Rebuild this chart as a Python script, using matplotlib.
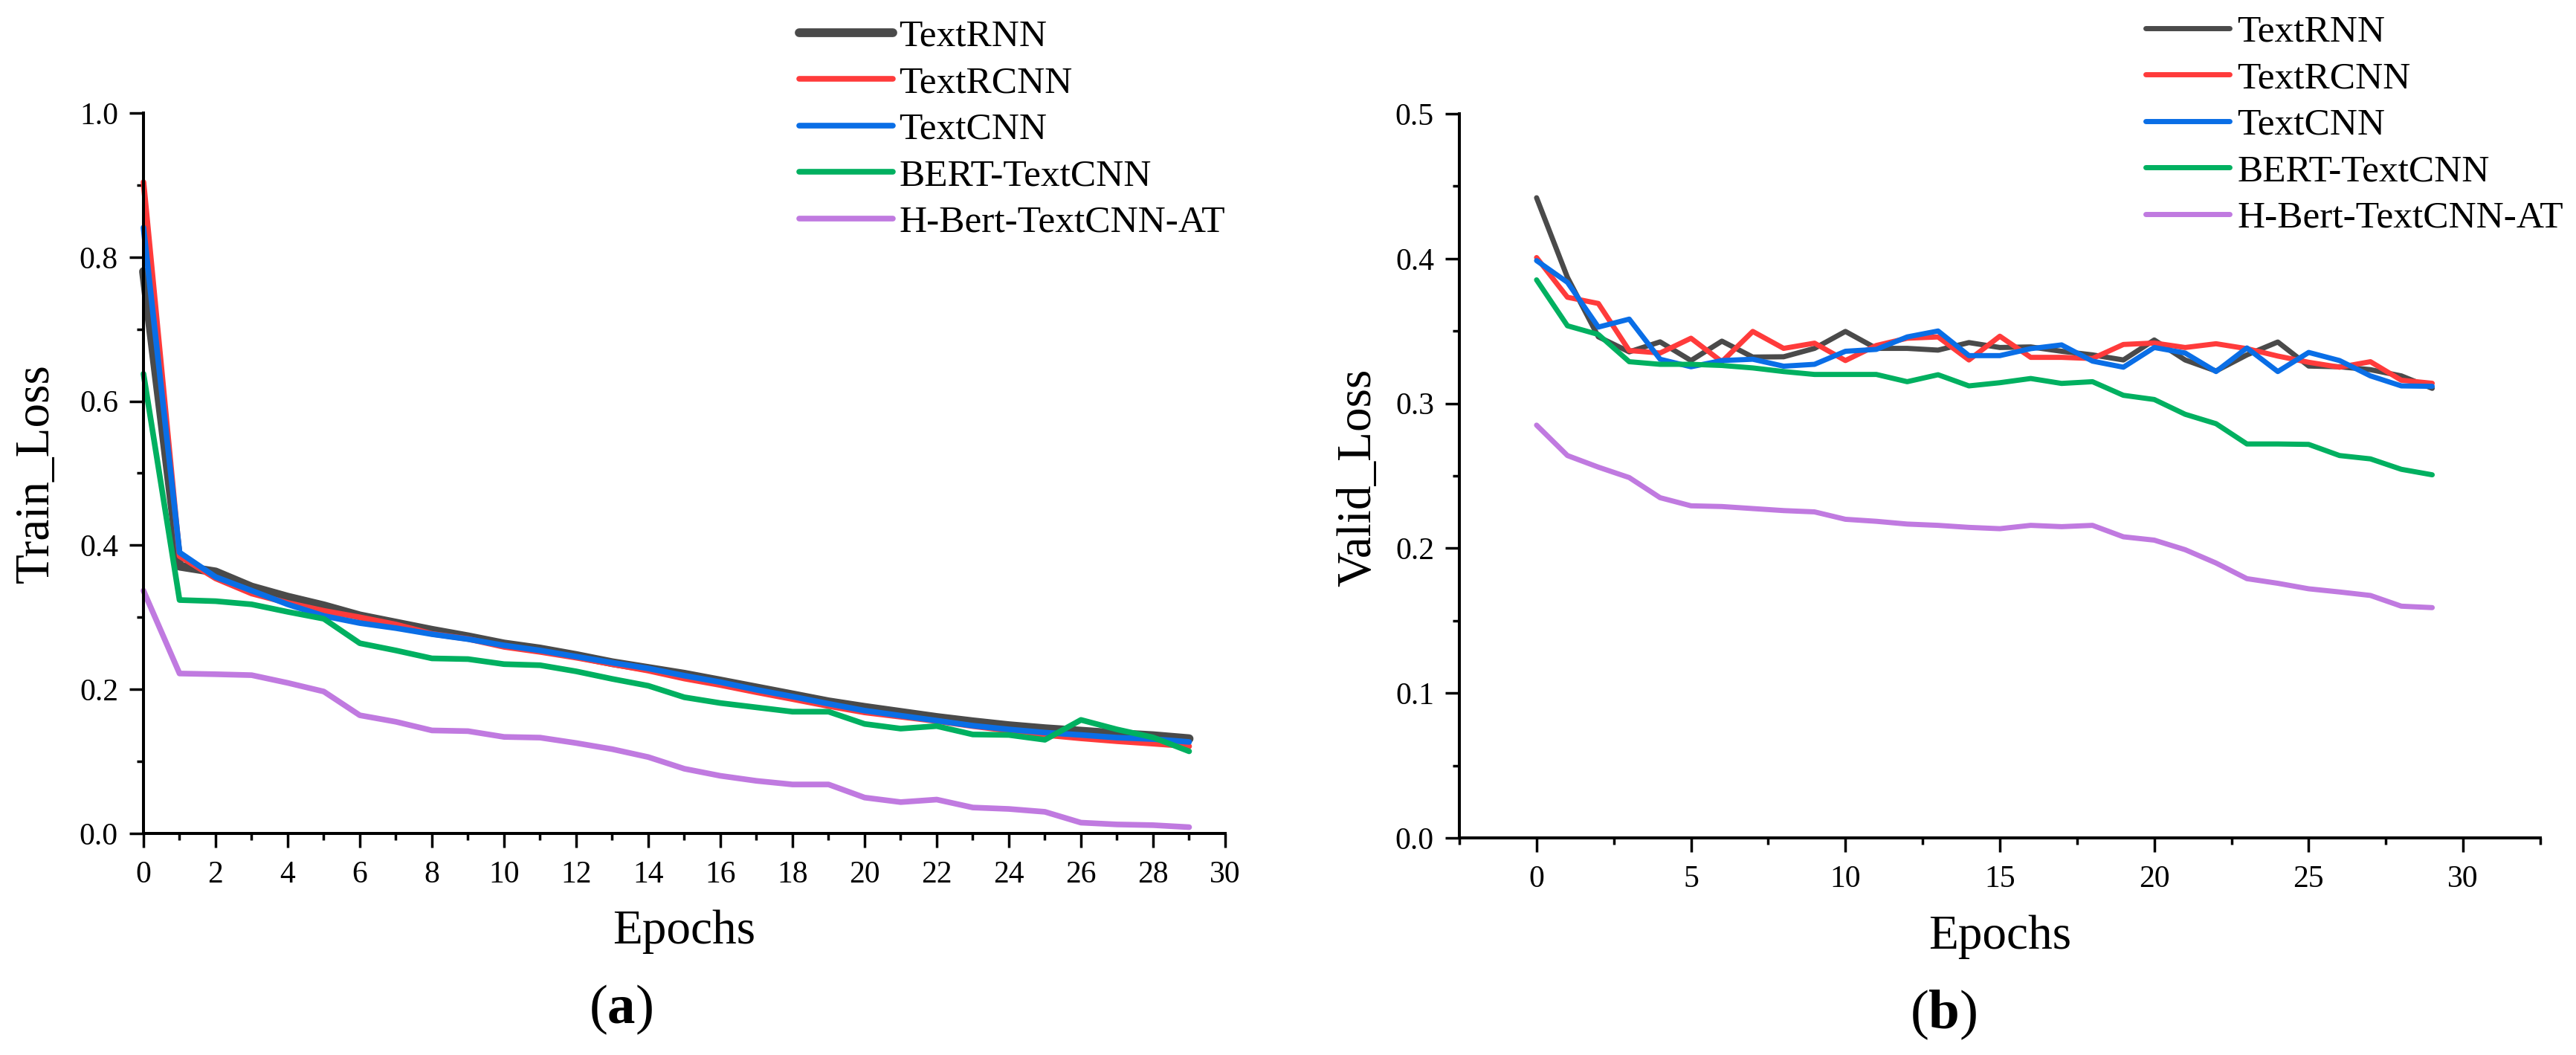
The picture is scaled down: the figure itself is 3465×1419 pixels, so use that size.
import matplotlib
matplotlib.use("Agg")
import matplotlib.pyplot as plt
from matplotlib.ticker import MultipleLocator, FormatStrFormatter

plt.rcParams['font.family'] = ['Liberation Serif', 'DejaVu Serif']
plt.rcParams['mathtext.fontset'] = 'custom'
plt.rcParams['mathtext.rm'] = 'Liberation Serif'
plt.rcParams['mathtext.bf'] = 'Liberation Serif:bold'

epochs = list(range(30))
series_names = ["TextRNN", "TextRCNN", "TextCNN", "BERT-TextCNN", "H-Bert-TextCNN-AT"]
colors = ["#4a4a4a", "#ff3b3b", "#0a6ee6", "#00b060", "#c07ae0"]

train_textrnn = [0.780, 0.371, 0.363, 0.342, 0.328, 0.316, 0.302, 0.292, 0.282, 0.273,
                 0.263, 0.256, 0.247, 0.237, 0.229, 0.221, 0.2116, 0.202, 0.1924, 0.1827,
                 0.175, 0.168, 0.161, 0.155, 0.1496, 0.1454, 0.142, 0.1385, 0.1357, 0.1315]
train_textrcnn = [0.904, 0.385, 0.354, 0.333, 0.320, 0.309, 0.300, 0.290, 0.277, 0.270,
                  0.259, 0.252, 0.244, 0.235, 0.226, 0.215, 0.206, 0.196, 0.1865, 0.1768,
                  0.168, 0.162, 0.156, 0.149, 0.1427, 0.1367, 0.132, 0.128, 0.1246, 0.121]
train_textcnn = [0.841, 0.390, 0.356, 0.337, 0.318, 0.302, 0.292, 0.285, 0.2766, 0.2697,
                 0.261, 0.254, 0.2455, 0.237, 0.229, 0.219, 0.210, 0.1994, 0.190, 0.180,
                 0.1705, 0.1635, 0.1566, 0.1496, 0.1444, 0.140, 0.1367, 0.133, 0.131, 0.127]
train_bert = [0.638, 0.324, 0.3224, 0.318, 0.3076, 0.298, 0.264, 0.254, 0.243, 0.242,
              0.235, 0.2335, 0.225, 0.2145, 0.205, 0.189, 0.181, 0.175, 0.169, 0.169,
              0.152, 0.1455, 0.149, 0.1374, 0.1367, 0.130, 0.1576, 0.1444, 0.1333, 0.114]
train_hbert = [0.337, 0.222, 0.221, 0.2197, 0.209, 0.197, 0.164, 0.155, 0.143, 0.142,
               0.134, 0.133, 0.1255, 0.117, 0.106, 0.0898, 0.080, 0.073, 0.068, 0.068,
               0.0498, 0.0435, 0.047, 0.036, 0.034, 0.030, 0.015, 0.0125, 0.0115, 0.0087]

valid_textrnn = [0.442, 0.387, 0.346, 0.3356, 0.3425, 0.3296, 0.343, 0.332, 0.3322, 0.338,
                 0.3497, 0.338, 0.338, 0.3368, 0.342, 0.3386, 0.339, 0.336, 0.3335, 0.330,
                 0.3438, 0.330, 0.3224, 0.3335, 0.3424, 0.3258, 0.3253, 0.3233, 0.319, 0.3104]
valid_textrcnn = [0.4007, 0.3733, 0.369, 0.3365, 0.3348, 0.345, 0.3288, 0.3497, 0.338, 0.3416,
                  0.3296, 0.340, 0.345, 0.3459, 0.330, 0.3464, 0.3318, 0.3318, 0.331, 0.3407,
                  0.3417, 0.3386, 0.3412, 0.3378, 0.3327, 0.3284, 0.325, 0.3288, 0.316, 0.3139]
valid_textcnn = [0.3986, 0.3836, 0.3527, 0.3582, 0.3305, 0.3253, 0.3296, 0.3305, 0.3257, 0.327,
                 0.336, 0.3373, 0.3459, 0.350, 0.333, 0.333, 0.3378, 0.3404, 0.3292, 0.325,
                 0.3386, 0.3348, 0.322, 0.3383, 0.322, 0.3352, 0.3296, 0.319, 0.3121, 0.3118]
valid_bert = [0.3853, 0.3536, 0.3476, 0.3288, 0.327, 0.327, 0.3262, 0.3245, 0.322, 0.320,
              0.320, 0.320, 0.315, 0.3198, 0.3121, 0.3143, 0.3172, 0.3138, 0.315, 0.3056,
              0.3027, 0.2925, 0.286, 0.272, 0.272, 0.2717, 0.264, 0.2617, 0.2545, 0.2507]
valid_hbert = [0.285, 0.264, 0.256, 0.2488, 0.2349, 0.2293, 0.2288, 0.2274, 0.226, 0.2251,
               0.220, 0.2186, 0.2167, 0.2158, 0.2144, 0.2135, 0.2158, 0.2149, 0.2158, 0.2079,
               0.2056, 0.199, 0.1898, 0.179, 0.1758, 0.172, 0.1698, 0.1674, 0.160, 0.159]

train_series = [train_textrnn, train_textrcnn, train_textcnn, train_bert, train_hbert]
valid_series = [valid_textrnn, valid_textrcnn, valid_textcnn, valid_bert, valid_hbert]

W, H = 3466, 1419
fig = plt.figure(figsize=(W / 100, H / 100), dpi=100)

ax1 = fig.add_axes([193 / W, 1 - 1121 / H, (1648 - 193) / W, (1121 - 152) / H])
ax2 = fig.add_axes([1963 / W, 1 - 1127 / H, (3417 - 1963) / W, (1127 - 153) / H])

train_lw = [8.5, 5.5, 5.5, 5.5, 5.5]
for ys, c, lw, name in zip(train_series, colors, train_lw, series_names):
    ax1.plot(epochs, ys, color=c, lw=lw, label=name, solid_capstyle='round',
             solid_joinstyle='round', clip_on=False)
for ys, c, name in zip(valid_series, colors, series_names):
    ax2.plot(epochs, ys, color=c, lw=5.0, label=name, solid_capstyle='round',
             solid_joinstyle='round', clip_on=False)

ax1.set_xlim(0, 30)
ax1.set_ylim(0, 1.0)
ax1.xaxis.set_major_locator(MultipleLocator(2))
ax1.xaxis.set_minor_locator(MultipleLocator(1))
ax1.yaxis.set_major_locator(MultipleLocator(0.2))
ax1.yaxis.set_minor_locator(MultipleLocator(0.1))
ax1.yaxis.set_major_formatter(FormatStrFormatter('%.1f'))

ax2.set_xlim(-2.5, 32.5)
ax2.set_ylim(0, 0.5)
ax2.xaxis.set_major_locator(MultipleLocator(5))
ax2.xaxis.set_minor_locator(MultipleLocator(2.5))
ax2.yaxis.set_major_locator(MultipleLocator(0.1))
ax2.yaxis.set_minor_locator(MultipleLocator(0.05))
ax2.yaxis.set_major_formatter(FormatStrFormatter('%.1f'))

for ax in (ax1, ax2):
    for s in ('top', 'right'):
        ax.spines[s].set_visible(False)
    for s in ('left', 'bottom'):
        ax.spines[s].set_linewidth(2.9)
    ax.tick_params(which='major', direction='out', length=13.5, width=2.5, labelsize=30)
    ax.tick_params(which='minor', direction='out', length=6.5, width=2.5)
    ax.tick_params(axis='x', which='major', pad=13)
    ax.tick_params(axis='y', which='major', pad=11)

fig.text(49 / W, 1 - 637 / H, "Train_Loss", rotation=90, ha='center', va='center', fontsize=47)
fig.text(1827 / W, 1 - 642 / H, "Valid_Loss", rotation=90, ha='center', va='center', fontsize=47)
fig.text(920 / W, 1 - 1253 / H, "Epochs", ha='center', va='center', fontsize=47)
fig.text(2690 / W, 1 - 1260 / H, "Epochs", ha='center', va='center', fontsize=47)
fig.text(835 / W, 1 - 1358 / H, r"($\mathbf{a}$)", ha='center', va='center', fontsize=54)
fig.text(2614 / W, 1 - 1365 / H, r"($\mathbf{b}$)", ha='center', va='center', fontsize=54)

leg_kw = dict(frameon=False, fontsize=37, labelspacing=0.3, borderpad=0,
              borderaxespad=0, loc='upper left')
ax1.legend(bbox_to_anchor=(1075 / W, 1 - 26 / H), bbox_transform=fig.transFigure,
           handlelength=2.45, handletextpad=0.16, **leg_kw)
ax2.legend(bbox_to_anchor=(2886 / W, 1 - 20 / H), bbox_transform=fig.transFigure,
           handlelength=2.2, handletextpad=0.2, **leg_kw)

fig.savefig("out.png", dpi=100)
